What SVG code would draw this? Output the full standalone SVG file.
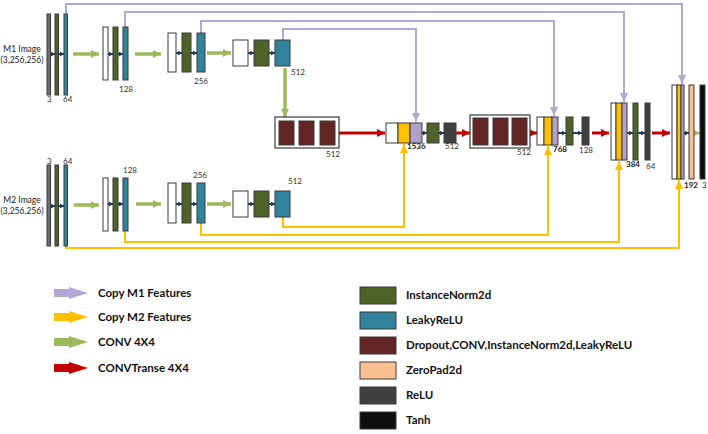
<svg xmlns="http://www.w3.org/2000/svg" width="708" height="434" viewBox="0 0 708 434">
<style>
.b{stroke:#3a3a3a;stroke-width:1}
.wh{fill:#ffffff}.gy{fill:#6f6f6f}.gr{fill:#4f6228}.tl{fill:#31849b}.mr{fill:#632523}
.ye{fill:#ffc000}.pu{fill:#b2a1c7}.dk{fill:#404040}.pe{fill:#fac090}.bk{fill:#0d0d0d}
.box{fill:#ffffff;stroke:#3a3a3a;stroke-width:1.2}
.t{font-family:Lato,"Liberation Sans",sans-serif;fill:#333;font-size:8px}
.tb{font-family:Lato,"Liberation Sans",sans-serif;fill:#222;font-size:8px;font-weight:bold}
.lab{font-family:Lato,"Liberation Sans",sans-serif;fill:#222;font-size:8.5px;text-anchor:middle}
.lg{font-family:Lato,"Liberation Sans",sans-serif;fill:#111;font-size:11.5px;font-weight:bold}
.pl{fill:none;stroke:#b4a7d6;stroke-width:2}
.yl{fill:none;stroke:#ffc000;stroke-width:2}
.gl{fill:none;stroke:#9bbb59;stroke-width:3.5}
.rl{fill:none;stroke:#c00000;stroke-width:3}
.bl{fill:none;stroke:#1f3864;stroke-width:2}
</style>
<defs>
<marker id="mp" markerUnits="userSpaceOnUse" markerWidth="9" markerHeight="8" refX="9" refY="4" orient="auto"><path d="M0,0L9,4L0,8z" fill="#b4a7d6"/></marker>
<marker id="my" markerUnits="userSpaceOnUse" markerWidth="9" markerHeight="8" refX="9" refY="4" orient="auto"><path d="M0,0L9,4L0,8z" fill="#ffc000"/></marker>
<marker id="mg" markerUnits="userSpaceOnUse" markerWidth="8" markerHeight="8" refX="8" refY="4" orient="auto"><path d="M0,0L8,4L0,8z" fill="#9bbb59"/></marker>
<marker id="mr" markerUnits="userSpaceOnUse" markerWidth="8" markerHeight="8" refX="8" refY="4" orient="auto"><path d="M0,0L8,4L0,8z" fill="#c00000"/></marker>
<marker id="mb" markerUnits="userSpaceOnUse" markerWidth="4" markerHeight="5" refX="4" refY="2.5" orient="auto"><path d="M0,0L4,2.5L0,5z" fill="#1f3864"/></marker>
</defs>

<g id="connectors">
<path class="pl" d="M66,14V4H682V84" marker-end="url(#mp)"/>
<path class="pl" d="M125,27V12H624V102" marker-end="url(#mp)"/>
<path class="pl" d="M201,33V21H554V116" marker-end="url(#mp)"/>
<path class="pl" d="M283,40V29H416V122" marker-end="url(#mp)"/>
<path class="yl" d="M283,217V227H404V144" marker-end="url(#my)"/>
<path class="yl" d="M201,223V235H548V146" marker-end="url(#my)"/>
<path class="yl" d="M125,231V242H619V161" marker-end="url(#my)"/>
<path class="yl" d="M66,246V248H679V180" marker-end="url(#my)"/>
<path class="gl" d="M73,54H99" marker-end="url(#mg)"/>
<path class="gl" d="M135,54H161" marker-end="url(#mg)"/>
<path class="gl" d="M207,53H231" marker-end="url(#mg)"/>
<path class="gl" d="M74,205H99" marker-end="url(#mg)"/>
<path class="gl" d="M136,204H161" marker-end="url(#mg)"/>
<path class="gl" d="M207,204H231" marker-end="url(#mg)"/>
<path class="gl" d="M285,68V117" marker-end="url(#mg)"/>
<path d="M694,133H700" stroke="#9bbb59" stroke-width="2" marker-end="url(#mg)"/>
<path class="rl" d="M339,133H385" marker-end="url(#mr)"/>
<path class="rl" d="M456,133H470" marker-end="url(#mr)"/>
<path class="rl" d="M530,133H537" marker-end="url(#mr)"/>
<path class="rl" d="M592,133H609" marker-end="url(#mr)"/>
<path class="rl" d="M652,133H670" marker-end="url(#mr)"/>
<g class="bl">
<path d="M50.5,54H55" marker-end="url(#mb)"/><path d="M58.5,54H64" marker-end="url(#mb)"/>
<path d="M108,54H113" marker-end="url(#mb)"/><path d="M118,54H123" marker-end="url(#mb)"/>
<path d="M176,53H182" marker-end="url(#mb)"/><path d="M191,53H197" marker-end="url(#mb)"/>
<path d="M248,53H254" marker-end="url(#mb)"/><path d="M269,53H275" marker-end="url(#mb)"/>
<path d="M50.5,206H55" marker-end="url(#mb)"/><path d="M58.5,206H64" marker-end="url(#mb)"/>
<path d="M108,204H113" marker-end="url(#mb)"/><path d="M118,204H123" marker-end="url(#mb)"/>
<path d="M176,204H182" marker-end="url(#mb)"/><path d="M191,204H197" marker-end="url(#mb)"/>
<path d="M248,204H254" marker-end="url(#mb)"/><path d="M269,204H275" marker-end="url(#mb)"/>
<path d="M294,133H299" marker-end="url(#mb)"/><path d="M314,133H320" marker-end="url(#mb)"/>
<path d="M422,133H427" marker-end="url(#mb)"/><path d="M439,133H444" marker-end="url(#mb)"/>
<path d="M488,133H493" marker-end="url(#mb)"/><path d="M508,133H512" marker-end="url(#mb)"/>
<path d="M558,133H566" marker-end="url(#mb)"/><path d="M573,133H582" marker-end="url(#mb)"/>
<path d="M627,133H633" marker-end="url(#mb)"/><path d="M638,133H645" marker-end="url(#mb)"/>
<path d="M684,133H689" marker-end="url(#mb)"/>
</g>
</g>

<g id="m1-input">
<text class="lab" x="22" y="52">M1 Image</text>
<text class="lab" x="22" y="63">(3,256,256)</text>
</g>
<g id="m1-l1">
<rect class="b gy" x="47" y="14" width="3.5" height="81"/>
<rect class="b gr" x="55" y="14" width="3.5" height="81"/>
<rect class="b tl" x="64" y="14" width="3.5" height="81"/>
<text class="t" x="47" y="102">3</text><text class="t" x="63" y="102">64</text>
</g>
<g id="m1-l2">
<rect class="b wh" x="103" y="27" width="5" height="53"/>
<rect class="b gr" x="113" y="27" width="5" height="53"/>
<rect class="b tl" x="123" y="27" width="5" height="53"/>
<text class="t" x="119" y="92">128</text>
</g>
<g id="m1-l3">
<rect class="b wh" x="168" y="33" width="8" height="39"/>
<rect class="b gr" x="182" y="33" width="9" height="39"/>
<rect class="b tl" x="197" y="33" width="8" height="39"/>
<text class="t" x="194" y="84">256</text>
</g>
<g id="m1-l4">
<rect class="b wh" x="233" y="40" width="15" height="26"/>
<rect class="b gr" x="254" y="40" width="15" height="26"/>
<rect class="b tl" x="275" y="40" width="15" height="26"/>
<text class="t" x="291" y="75">512</text>
</g>

<g id="m2-input">
<text class="lab" x="22" y="203">M2 Image</text>
<text class="lab" x="22" y="214">(3,256,256)</text>
</g>
<g id="m2-l1">
<rect class="b gy" x="47" y="165" width="3.5" height="81"/>
<rect class="b gr" x="55" y="165" width="3.5" height="81"/>
<rect class="b tl" x="64" y="165" width="3.5" height="81"/>
<text class="t" x="47" y="164">3</text><text class="t" x="63" y="164">64</text>
</g>
<g id="m2-l2">
<rect class="b wh" x="103" y="178" width="5" height="53"/>
<rect class="b gr" x="113" y="178" width="5" height="53"/>
<rect class="b tl" x="123" y="178" width="5" height="53"/>
<text class="t" x="123" y="173">128</text>
</g>
<g id="m2-l3">
<rect class="b wh" x="168" y="183" width="8" height="40"/>
<rect class="b gr" x="182" y="183" width="9" height="40"/>
<rect class="b tl" x="197" y="183" width="8" height="40"/>
<text class="t" x="193" y="178">256</text>
</g>
<g id="m2-l4">
<rect class="b wh" x="233" y="191" width="15" height="26"/>
<rect class="b gr" x="254" y="191" width="15" height="26"/>
<rect class="b tl" x="275" y="191" width="15" height="26"/>
<text class="t" x="288" y="184">512</text>
</g>

<g id="bottleneck1">
<rect class="box" x="275" y="117" width="64" height="31"/>
<rect class="b mr" x="279" y="121" width="15" height="24"/>
<rect class="b mr" x="299" y="121" width="15" height="24"/>
<rect class="b mr" x="320" y="121" width="15" height="24"/>
<text class="t" x="326" y="157">512</text>
</g>
<g id="decoder1">
<rect class="b wh" x="386" y="123" width="12" height="20"/>
<rect class="b ye" x="398" y="123" width="12" height="20"/>
<rect class="b pu" x="410" y="123" width="12" height="20"/>
<rect class="b gr" x="427" y="123" width="12" height="20"/>
<rect class="b dk" x="444" y="123" width="12" height="20"/>
<text class="tb" x="407" y="149">1536</text>
<text class="t" x="445" y="149">512</text>
</g>
<g id="bottleneck2">
<rect class="box" x="470" y="115" width="60" height="33"/>
<rect class="b mr" x="473" y="118" width="15" height="27"/>
<rect class="b mr" x="493" y="118" width="15" height="27"/>
<rect class="b mr" x="512" y="118" width="15" height="27"/>
<text class="t" x="517" y="155">512</text>
</g>
<g id="decoder2">
<rect class="b wh" x="537" y="117" width="7" height="28"/>
<rect class="b ye" x="544" y="117" width="8" height="28"/>
<rect class="b pu" x="552" y="117" width="6" height="28"/>
<rect class="b gr" x="566" y="117" width="7" height="28"/>
<rect class="b dk" x="582" y="117" width="7" height="28"/>
<text class="tb" x="553" y="152">768</text>
<text class="t" x="579" y="153">128</text>
</g>
<g id="decoder3">
<rect class="b wh" x="611" y="103" width="5" height="57"/>
<rect class="b ye" x="616" y="103" width="6" height="57"/>
<rect class="b pu" x="622" y="103" width="5" height="57"/>
<rect class="b gr" x="633" y="103" width="5" height="57"/>
<rect class="b dk" x="645" y="103" width="5" height="57"/>
<text class="tb" x="626" y="167">384</text>
<text class="t" x="646" y="169">64</text>
</g>
<g id="decoder4">
<rect class="b wh" x="672" y="85" width="5" height="94"/>
<rect class="b ye" x="677" y="85" width="4" height="94"/>
<rect class="b pu" x="681" y="85" width="3" height="94"/>
<rect class="b pe" x="689" y="85" width="5" height="94"/>
<rect class="b bk" x="700" y="85" width="5" height="94"/>
<text class="tb" x="684" y="188">192</text>
<text class="t" x="702" y="188">3</text>
</g>

<g id="legend-arrows">
<path d="M54,289H69V287L88,293L69,299V297H54z" fill="#b4a7d6"/>
<text class="lg" x="98" y="297">Copy M1 Features</text>
<path d="M54,313H69V311L88,317L69,323V321H54z" fill="#ffc000"/>
<text class="lg" x="98" y="321">Copy M2 Features</text>
<path d="M54,338H69V336L88,342L69,348V346H54z" fill="#9bbb59"/>
<text class="lg" x="98" y="346">CONV 4X4</text>
<path d="M54,364H69V362L88,368L69,374V372H54z" fill="#c00000"/>
<text class="lg" x="98" y="372">CONVTranse 4X4</text>
</g>
<g id="legend-boxes">
<rect class="b gr" x="360" y="287" width="36" height="17"/>
<text class="lg" x="406" y="299">InstanceNorm2d</text>
<rect class="b tl" x="360" y="312" width="36" height="17"/>
<text class="lg" x="406" y="324">LeakyReLU</text>
<rect class="b mr" x="360" y="337" width="36" height="17"/>
<text class="lg" x="406" y="349">Dropout,CONV,InstanceNorm2d,LeakyReLU</text>
<rect class="b pe" x="360" y="362" width="36" height="17"/>
<text class="lg" x="406" y="374">ZeroPad2d</text>
<rect class="b dk" x="360" y="387" width="36" height="17"/>
<text class="lg" x="406" y="399">ReLU</text>
<rect class="b bk" x="360" y="412" width="36" height="17"/>
<text class="lg" x="406" y="424">Tanh</text>
</g>
</svg>
